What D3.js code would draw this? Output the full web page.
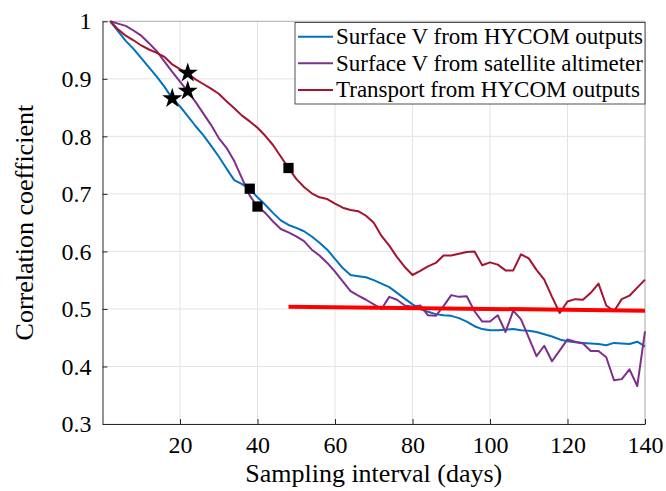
<!DOCTYPE html>
<html>
<head>
<meta charset="utf-8">
<script src="https://cdn.jsdelivr.net/npm/d3@7"></script>
<style>
  body { margin: 0; background: #fff; }
  text { font-family: "Liberation Serif", "Times New Roman", serif; fill: #000; }
</style>
</head>
<body>
<div id="chart"></div>
<script>
// sampling interval (days)
const days = d3.range(2, 141, 2);

const hycomV = [1.0, 0.983, 0.966, 0.952, 0.936, 0.92, 0.904, 0.886, 0.866, 0.852,
  0.835, 0.818, 0.802, 0.784, 0.765, 0.744, 0.724, 0.717, 0.709, 0.694,
  0.681, 0.667, 0.654, 0.646, 0.641, 0.635, 0.626, 0.615, 0.603, 0.587,
  0.571, 0.559, 0.557, 0.555, 0.55, 0.544, 0.538, 0.528, 0.518, 0.508,
  0.5, 0.495, 0.491, 0.489, 0.488, 0.484, 0.478, 0.47, 0.465, 0.463,
  0.463, 0.464, 0.465, 0.463, 0.462, 0.46, 0.456, 0.452, 0.447, 0.444,
  0.442, 0.441, 0.44, 0.439, 0.437, 0.441, 0.44, 0.439, 0.443, 0.435];

const altimeterV = [1.0, 0.996, 0.992, 0.984, 0.975, 0.962, 0.948, 0.93, 0.912, 0.895,
  0.878, 0.86, 0.84, 0.82, 0.797, 0.78, 0.757, 0.727, 0.697, 0.678,
  0.667, 0.652, 0.639, 0.633, 0.626, 0.618, 0.603, 0.593, 0.58, 0.565,
  0.548, 0.531, 0.523, 0.516, 0.508, 0.5, 0.521, 0.516, 0.506, 0.504,
  0.506, 0.489, 0.488, 0.505, 0.524, 0.521, 0.522, 0.496, 0.478, 0.478,
  0.489, 0.46, 0.497, 0.482, 0.45, 0.418, 0.436, 0.409, 0.428, 0.447,
  0.443, 0.44, 0.427, 0.427, 0.416, 0.376, 0.378, 0.395, 0.366, 0.461];

const transport = [1.0, 0.986, 0.975, 0.967, 0.958, 0.951, 0.945, 0.938, 0.925, 0.917,
  0.909, 0.899, 0.891, 0.883, 0.874, 0.861, 0.849, 0.836, 0.826, 0.815,
  0.801, 0.785, 0.765, 0.745, 0.726, 0.712, 0.701, 0.694, 0.691, 0.683,
  0.676, 0.672, 0.67, 0.662, 0.65, 0.627, 0.61, 0.59, 0.573, 0.559,
  0.566, 0.574, 0.58, 0.593, 0.593, 0.596, 0.599, 0.6, 0.576, 0.581,
  0.577, 0.567, 0.567, 0.595, 0.588, 0.568, 0.551, 0.521, 0.493, 0.513,
  0.517, 0.516, 0.528, 0.544, 0.506, 0.496, 0.517, 0.523, 0.537, 0.551];

const trendX = [48, 140];
const trendY = [0.504, 0.497];

const starX = [18, 22, 22];
const starY = [0.866, 0.91, 0.879];
const squareX = [38, 40, 48];
const squareY = [0.709, 0.678, 0.745];

const seriesNames = ["Surface V from HYCOM outputs", "Surface V from satellite altimeter", "Transport from HYCOM outputs"];
const seriesColors = ["#0072BD", "#7E2F8E", "#A2142F"];
const seriesValues = [hycomV, altimeterV, transport];

const xTicks = [20, 40, 60, 80, 100, 120, 140];
const yTicks = [0.3, 0.4, 0.5, 0.6, 0.7, 0.8, 0.9, 1];

const width = 666;
const height = 491;
const margin = ({top: 21.3, right: 21, bottom: 67, left: 102.5});

const x = d3.scaleLinear()
      .domain([0, 140])
      .range([margin.left, width - margin.right]);

const y = d3.scaleLinear()
      .domain([0.3, 1])
      .range([height - margin.bottom, margin.top]);

const svg = d3.select("#chart").append("svg")
      .attr("width", width)
      .attr("height", height)
      .attr("viewBox", [0, 0, width, height]);

svg.append("rect")
    .attr("width", width)
    .attr("height", height)
    .attr("fill", "#fff");

// grid
svg.append("g")
    .attr("stroke", "#e3e3e3")
    .attr("stroke-width", 1)
    .call(g => g.selectAll("line.gx").data(xTicks).join("line")
          .attr("x1", d => x(d)).attr("x2", d => x(d))
          .attr("y1", y(0.3)).attr("y2", y(1)))
    .call(g => g.selectAll("line.gy").data(yTicks).join("line")
          .attr("x1", x(0)).attr("x2", x(140))
          .attr("y1", d => y(d)).attr("y2", d => y(d)));

// frame top/right
svg.append("path")
    .attr("fill", "none")
    .attr("stroke", "#b5b5b5")
    .attr("d", `M${x(0)},${y(1)}H${x(140)}V${y(0.3)}`);

const line = d3.line()
      .x((d, i) => x(days[i]))
      .y(d => y(d));

svg.append("g")
    .selectAll("path")
    .data(seriesValues)
    .join("path")
    .attr("fill", "none")
    .attr("stroke", (d, i) => seriesColors[i])
    .attr("stroke-width", 2)
    .attr("stroke-linejoin", "round")
    .attr("d", line);

svg.append("path")
    .datum(trendY)
    .attr("fill", "none")
    .attr("stroke", "#ff0000")
    .attr("stroke-width", 4)
    .attr("d", d3.line().x((d, i) => x(trendX[i])).y(d => y(d)));

svg.append("g")
    .selectAll("path")
    .data(starY)
    .join("path")
    .attr("transform", (d, i) => `translate(${x(starX[i])},${y(d)})`)
    .attr("d", d3.symbol(d3.symbolStar, 125))
    .attr("fill", "#000");

svg.append("g")
    .selectAll("path")
    .data(squareY)
    .join("path")
    .attr("transform", (d, i) => `translate(${x(squareX[i])},${y(d)})`)
    .attr("d", d3.symbol(d3.symbolSquare, 105))
    .attr("fill", "#000");

// axes
const xAxis = g => g
      .attr("transform", `translate(0,${y(0.3)})`)
      .call(d3.axisBottom(x).tickValues(xTicks).tickSizeInner(-5).tickSizeOuter(0).tickPadding(12))
      .call(g => g.select(".domain").attr("stroke", "#262626"))
      .call(g => g.selectAll(".tick line").attr("stroke", "#262626"))
      .call(g => g.selectAll(".tick text")
            .attr("font-family", "Liberation Serif")
            .attr("font-size", 24)
            .attr("fill", "#000"));

const yAxis = g => g
      .attr("transform", `translate(${x(0)},0)`)
      .call(d3.axisLeft(y).tickValues(yTicks).tickFormat(d3.format("")).tickSizeInner(-5).tickSizeOuter(0).tickPadding(11))
      .call(g => g.select(".domain").attr("stroke", "#262626"))
      .call(g => g.selectAll(".tick line").attr("stroke", "#262626"))
      .call(g => g.selectAll(".tick text")
            .attr("font-family", "Liberation Serif")
            .attr("font-size", 24)
            .attr("fill", "#000"));

svg.append("g").call(xAxis);
svg.append("g").call(yAxis);

svg.append("text")
    .attr("x", (x(0) + x(140)) / 2)
    .attr("y", 482)
    .attr("text-anchor", "middle")
    .attr("font-size", 26)
    .text("Sampling interval (days)");

svg.append("text")
    .attr("transform", `translate(33,${(y(0.3) + y(1)) / 2}) rotate(-90)`)
    .attr("text-anchor", "middle")
    .attr("font-size", 26)
    .text("Correlation coefficient");

// legend
const legend = svg.append("g");

legend.append("rect")
    .attr("x", 295)
    .attr("y", 22.5)
    .attr("width", 350)
    .attr("height", 81.5)
    .attr("fill", "#fff")
    .attr("stroke", "#262626")
    .attr("stroke-width", 0.8);

const rows = legend.selectAll("g.row")
      .data(seriesNames)
      .join("g")
      .attr("transform", (d, i) => `translate(0,${36.7 + i * 26.6})`);

rows.append("line")
    .attr("x1", 298).attr("x2", 333)
    .attr("stroke", (d, i) => seriesColors[i])
    .attr("stroke-width", 2);

rows.append("text")
    .attr("x", 336)
    .attr("dy", "0.33em")
    .attr("font-size", 23)
    .text(d => d);
</script>
</body>
</html>
